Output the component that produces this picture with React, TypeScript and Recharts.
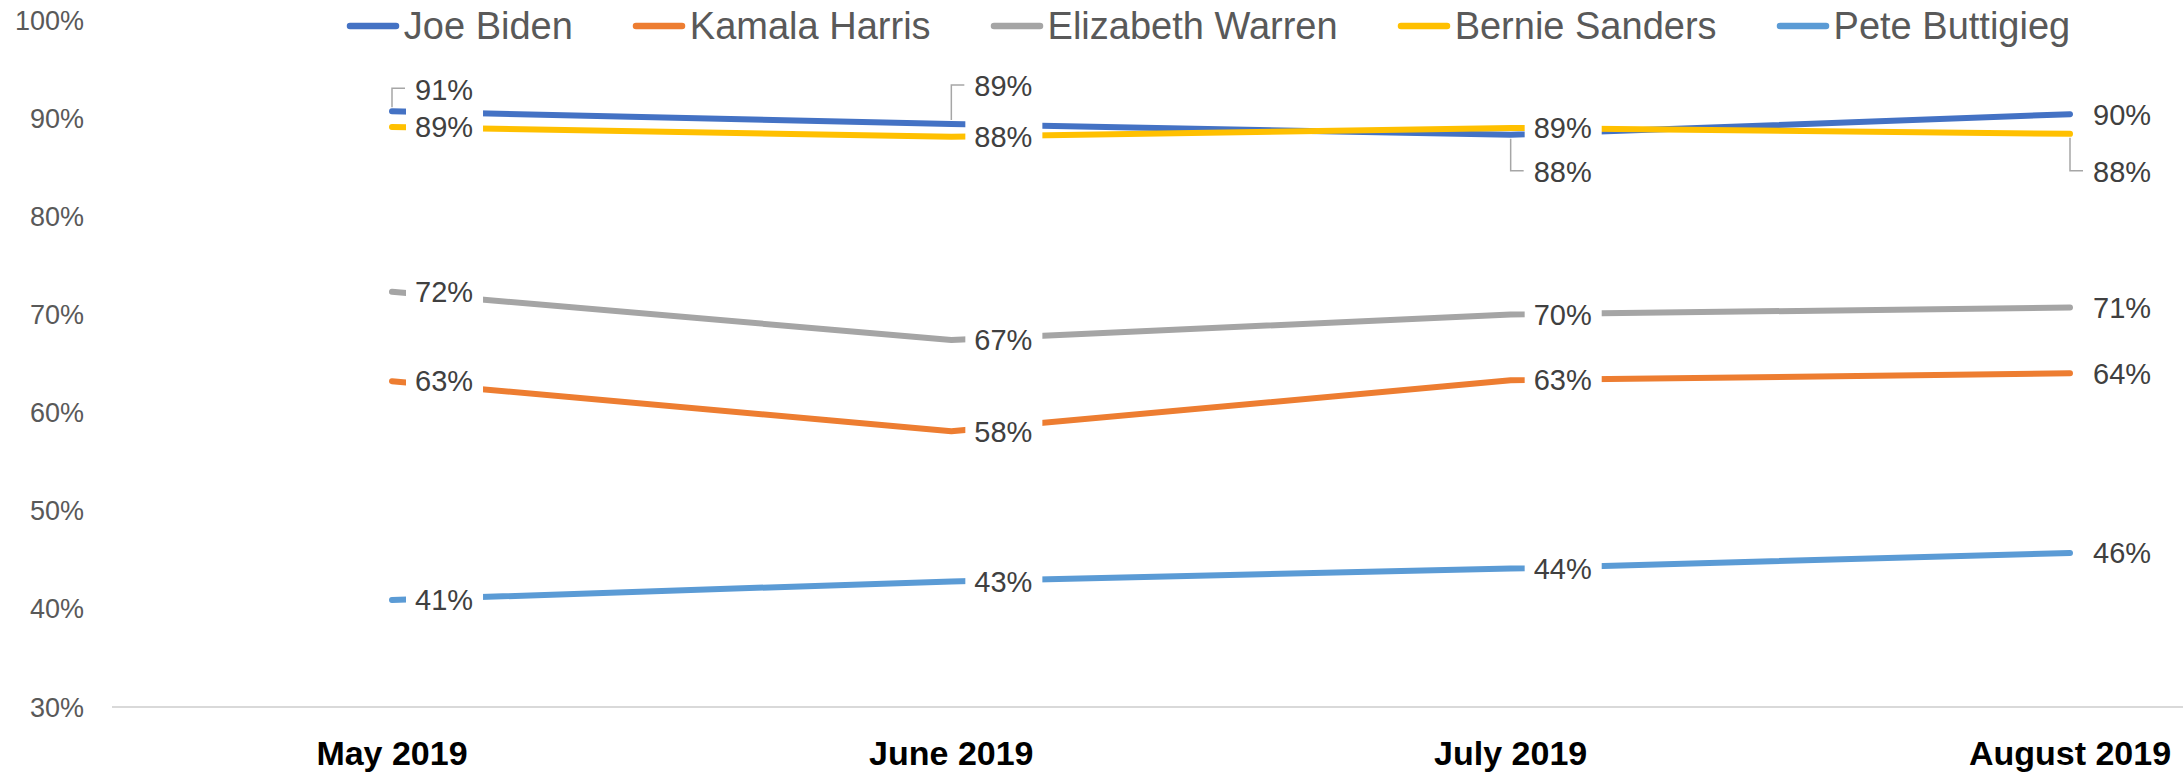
import React from "react";
import { LabelList, Line, LineChart, XAxis, YAxis } from "recharts";

const months = ["May 2019", "June 2019", "July 2019", "August 2019"];
const biden = [0.907, 0.894, 0.883, 0.904];
const harris = [0.632, 0.581, 0.633, 0.64];
const warren = [0.723, 0.674, 0.7, 0.707];
const sanders = [0.891, 0.881, 0.89, 0.884];
const buttigieg = [0.409, 0.428, 0.441, 0.457];
const yTicks = [0.3, 0.4, 0.5, 0.6, 0.7, 0.8, 0.9, 1.0];

const SERIES = [
  { key: "biden", name: "Joe Biden", color: "#4472C4", values: biden },
  { key: "harris", name: "Kamala Harris", color: "#ED7D31", values: harris },
  { key: "warren", name: "Elizabeth Warren", color: "#A5A5A5", values: warren },
  { key: "sanders", name: "Bernie Sanders", color: "#FFC000", values: sanders },
  { key: "buttigieg", name: "Pete Buttigieg", color: "#5B9BD5", values: buttigieg },
];

// manual label nudges (px) where Excel moved labels off the crowded top pair
const LABEL_SHIFT: Record<string, number[]> = {
  biden: [-22, -38, 37, 0],
  sanders: [0, 0, 0, 38],
};

const FONT = "'Liberation Sans', Arial, sans-serif";

const data = months.map((month, i) => {
  const row: Record<string, string | number> = { month };
  SERIES.forEach((s) => {
    row[s.key] = s.values[i];
  });
  return row;
});

const pct = (v: number) => `${Math.round(v * 100)}%`;

function PointLabel(props: any) {
  const { x, y, value, shift = 0 } = props;
  if (x == null || y == null || value == null) return null;
  const text = pct(value);
  const fs = 29;
  const tw = fs * (0.556 * (text.length - 1) + 0.889);
  const cy = y + shift;
  return (
    <g>
      <rect x={x + 14} y={cy - 19} width={tw + 19} height={38} fill="#ffffff" />
      {shift !== 0 && (
        <polyline
          points={`${x},${y + Math.sign(shift) * 4} ${x},${cy - 1} ${x + 13},${cy - 1}`}
          fill="none"
          stroke="#a6a6a6"
          strokeWidth={1.5}
        />
      )}
      <text x={x + 23} y={cy} dy="0.355em" fontSize={fs} fontFamily={FONT} fill="#404040">
        {text}
      </text>
    </g>
  );
}

function ChartLegend() {
  return (
    <div
      style={{
        position: "absolute",
        top: 0,
        left: 0,
        width: 2416,
        height: 52,
        display: "flex",
        justifyContent: "center",
        alignItems: "center",
        gap: 59,
        fontFamily: FONT,
        fontSize: 38,
        color: "#595959",
        whiteSpace: "nowrap",
      }}
    >
      {SERIES.map((s) => (
        <div key={s.key} style={{ display: "flex", alignItems: "center" }}>
          <svg width={54} height={10} style={{ marginRight: 4 }}>
            <line x1={4} y1={5} x2={50} y2={5} stroke={s.color} strokeWidth={6.5} strokeLinecap="round" />
          </svg>
          <span>{s.name}</span>
        </div>
      ))}
    </div>
  );
}

export default function App() {
  return (
    <div
      style={{
        position: "fixed",
        left: 0,
        top: 0,
        width: 2183,
        height: 772,
        overflow: "hidden",
        background: "#ffffff",
      }}
    >
      <div style={{ position: "relative", width: 2400, height: 772 }}>
        <LineChart width={2400} height={772} data={data} margin={{ top: 20, right: 50, bottom: 0, left: 0 }}>
          <XAxis
            dataKey="month"
            padding={{ left: 280, right: 280 }}
            height={65}
            axisLine={{ stroke: "#d9d9d9", strokeWidth: 2 }}
            tickLine={false}
            tickSize={0}
            tickMargin={34}
            tick={{ fontSize: 34, fontWeight: 700, fill: "#000000", fontFamily: FONT }}
          />
          <YAxis
            type="number"
            domain={[0.3, 1]}
            ticks={yTicks}
            width={112}
            axisLine={false}
            tickLine={false}
            tickSize={0}
            tickMargin={28}
            tickFormatter={pct}
            tick={{ fontSize: 27, fill: "#595959", fontFamily: FONT }}
          />
          {SERIES.map((s) => (
            <Line
              key={s.key}
              type="linear"
              dataKey={s.key}
              name={s.name}
              stroke={s.color}
              strokeWidth={6}
              strokeLinecap="round"
              strokeLinejoin="round"
              dot={false}
              activeDot={false}
              isAnimationActive={false}
            />
          ))}
          {SERIES.map((s) => (
            <Line
              key={`${s.key}-labels`}
              type="linear"
              dataKey={s.key}
              stroke="none"
              legendType="none"
              dot={false}
              activeDot={false}
              isAnimationActive={false}
            >
              <LabelList
                dataKey={s.key}
                content={(p: any) => <PointLabel {...p} shift={(LABEL_SHIFT[s.key] || [])[p.index] || 0} />}
              />
            </Line>
          ))}
        </LineChart>
        <ChartLegend />
      </div>
    </div>
  );
}
